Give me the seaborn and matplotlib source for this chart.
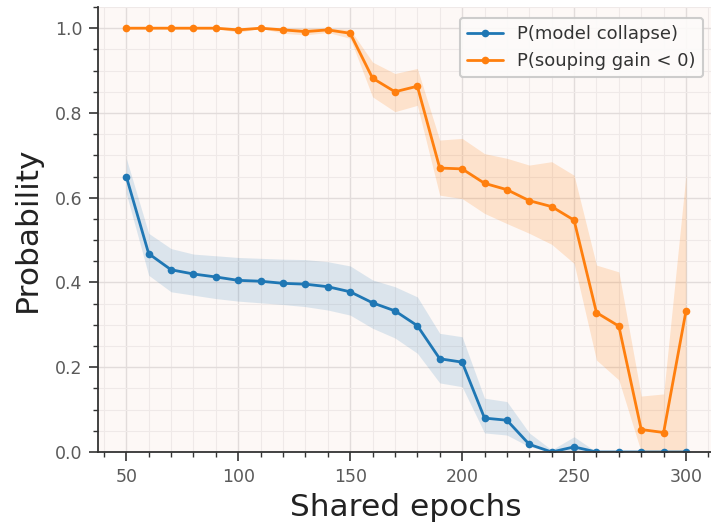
import numpy as np
import pandas as pd
import matplotlib
matplotlib.use("Agg")
import matplotlib.pyplot as plt
import seaborn as sns
from matplotlib.ticker import MultipleLocator

epochs = [50, 60, 70, 80, 90, 100, 110, 120, 130, 140, 150, 160, 170, 180, 190,
          200, 210, 220, 230, 240, 250, 260, 270, 280, 290, 300]

collapse = [0.650, 0.468, 0.430, 0.420, 0.413, 0.405, 0.403, 0.398, 0.396, 0.390,
            0.378, 0.352, 0.333, 0.298, 0.220, 0.212, 0.080, 0.075, 0.018, 0.000,
            0.012, 0.000, 0.000, 0.000, 0.000, 0.000]
collapse_lo = [0.610, 0.417, 0.378, 0.370, 0.362, 0.356, 0.352, 0.348, 0.343, 0.335,
               0.323, 0.292, 0.269, 0.233, 0.163, 0.154, 0.045, 0.040, 0.0125, 0.000,
               0.000, 0.000, 0.000, 0.000, 0.000, 0.000]
collapse_hi = [0.693, 0.516, 0.480, 0.467, 0.463, 0.459, 0.457, 0.455, 0.454, 0.449,
               0.439, 0.406, 0.390, 0.366, 0.280, 0.272, 0.127, 0.119, 0.045, 0.005,
               0.036, 0.000, 0.000, 0.000, 0.000, 0.000]

gain_neg = [1.000, 1.000, 1.000, 1.000, 1.000, 0.996, 1.000, 0.996, 0.992, 0.996,
            0.988, 0.882, 0.850, 0.863, 0.670, 0.668, 0.634, 0.619, 0.593, 0.579,
            0.547, 0.329, 0.297, 0.053, 0.046, 0.333]
gain_lo = [1.000, 1.000, 1.000, 1.000, 1.000, 0.990, 1.000, 0.988, 0.984, 0.990,
           0.976, 0.838, 0.803, 0.818, 0.606, 0.598, 0.563, 0.539, 0.516, 0.490,
           0.445, 0.217, 0.170, 0.000, 0.000, 0.000]
gain_hi = [1.000, 1.000, 1.000, 1.000, 1.000, 1.000, 1.000, 1.000, 1.000, 1.000,
           0.997, 0.920, 0.893, 0.905, 0.736, 0.740, 0.704, 0.693, 0.677, 0.685,
           0.653, 0.441, 0.425, 0.132, 0.137, 0.655]

labels = ["P(model collapse)", "P(souping gain < 0)"]
colors = ["#1f77b4", "#ff7f0e"]

sns.set_theme(style="ticks")
plt.rcParams["font.family"] = ["DejaVu Sans"]

df = pd.DataFrame({
    "epochs": epochs * 2,
    "prob": collapse + gain_neg,
    "series": [labels[0]] * len(epochs) + [labels[1]] * len(epochs),
})

fig = plt.figure(figsize=(7.11, 5.27), dpi=100)
ax = fig.add_axes([98.3 / 711, 75 / 527, (714 - 98.3) / 711, (452 - 7) / 527])
ax.set_facecolor("#fdf8f6")

ax.fill_between(epochs, collapse_lo, collapse_hi, color=colors[0], alpha=0.15, linewidth=0)
ax.fill_between(epochs, gain_lo, gain_hi, color=colors[1], alpha=0.18, linewidth=0)

sns.lineplot(data=df, x="epochs", y="prob", hue="series", palette=colors,
             marker="o", markersize=5.5, markeredgewidth=0, linewidth=2,
             ax=ax, legend=True)

ax.set_xlim(37.5, 312.5)
ax.set_ylim(0, 1.05)
ax.xaxis.set_major_locator(MultipleLocator(50))
ax.xaxis.set_minor_locator(MultipleLocator(10))
ax.yaxis.set_major_locator(MultipleLocator(0.2))
ax.yaxis.set_minor_locator(MultipleLocator(0.05))
ax.yaxis.set_major_formatter(matplotlib.ticker.FormatStrFormatter("%.1f"))

ax.grid(which="major", color="#e2dcdb", linewidth=1.0)
ax.grid(which="minor", color="#efe9e8", linewidth=0.8)
ax.set_axisbelow(True)

for s in ["top", "right"]:
    ax.spines[s].set_visible(False)
for s in ["left", "bottom"]:
    ax.spines[s].set_color("#333333")
    ax.spines[s].set_linewidth(1.3)

ax.tick_params(which="major", direction="out", length=6.5, width=1.2, color="#333333",
               labelsize=12.5, labelcolor="#5a5a5a", pad=5)
ax.tick_params(which="minor", direction="out", length=3.5, width=1.0, color="#333333")

ax.set_xlabel("Shared epochs", fontsize=22.5, color="#222222", labelpad=5)
ax.set_ylabel("Probability", fontsize=22.5, color="#222222", labelpad=9)

leg = ax.legend(loc="upper right", fontsize=13, frameon=True, fancybox=True,
                handlelength=2.0, borderaxespad=0.6)
leg.get_frame().set_edgecolor("#c8c8c8")
leg.get_frame().set_linewidth(1.5)
leg.get_frame().set_facecolor("#fdfbfa")
leg.get_frame().set_alpha(0.9)
for t in leg.get_texts():
    t.set_color("#333333")

fig.savefig("out.png", dpi=100)
